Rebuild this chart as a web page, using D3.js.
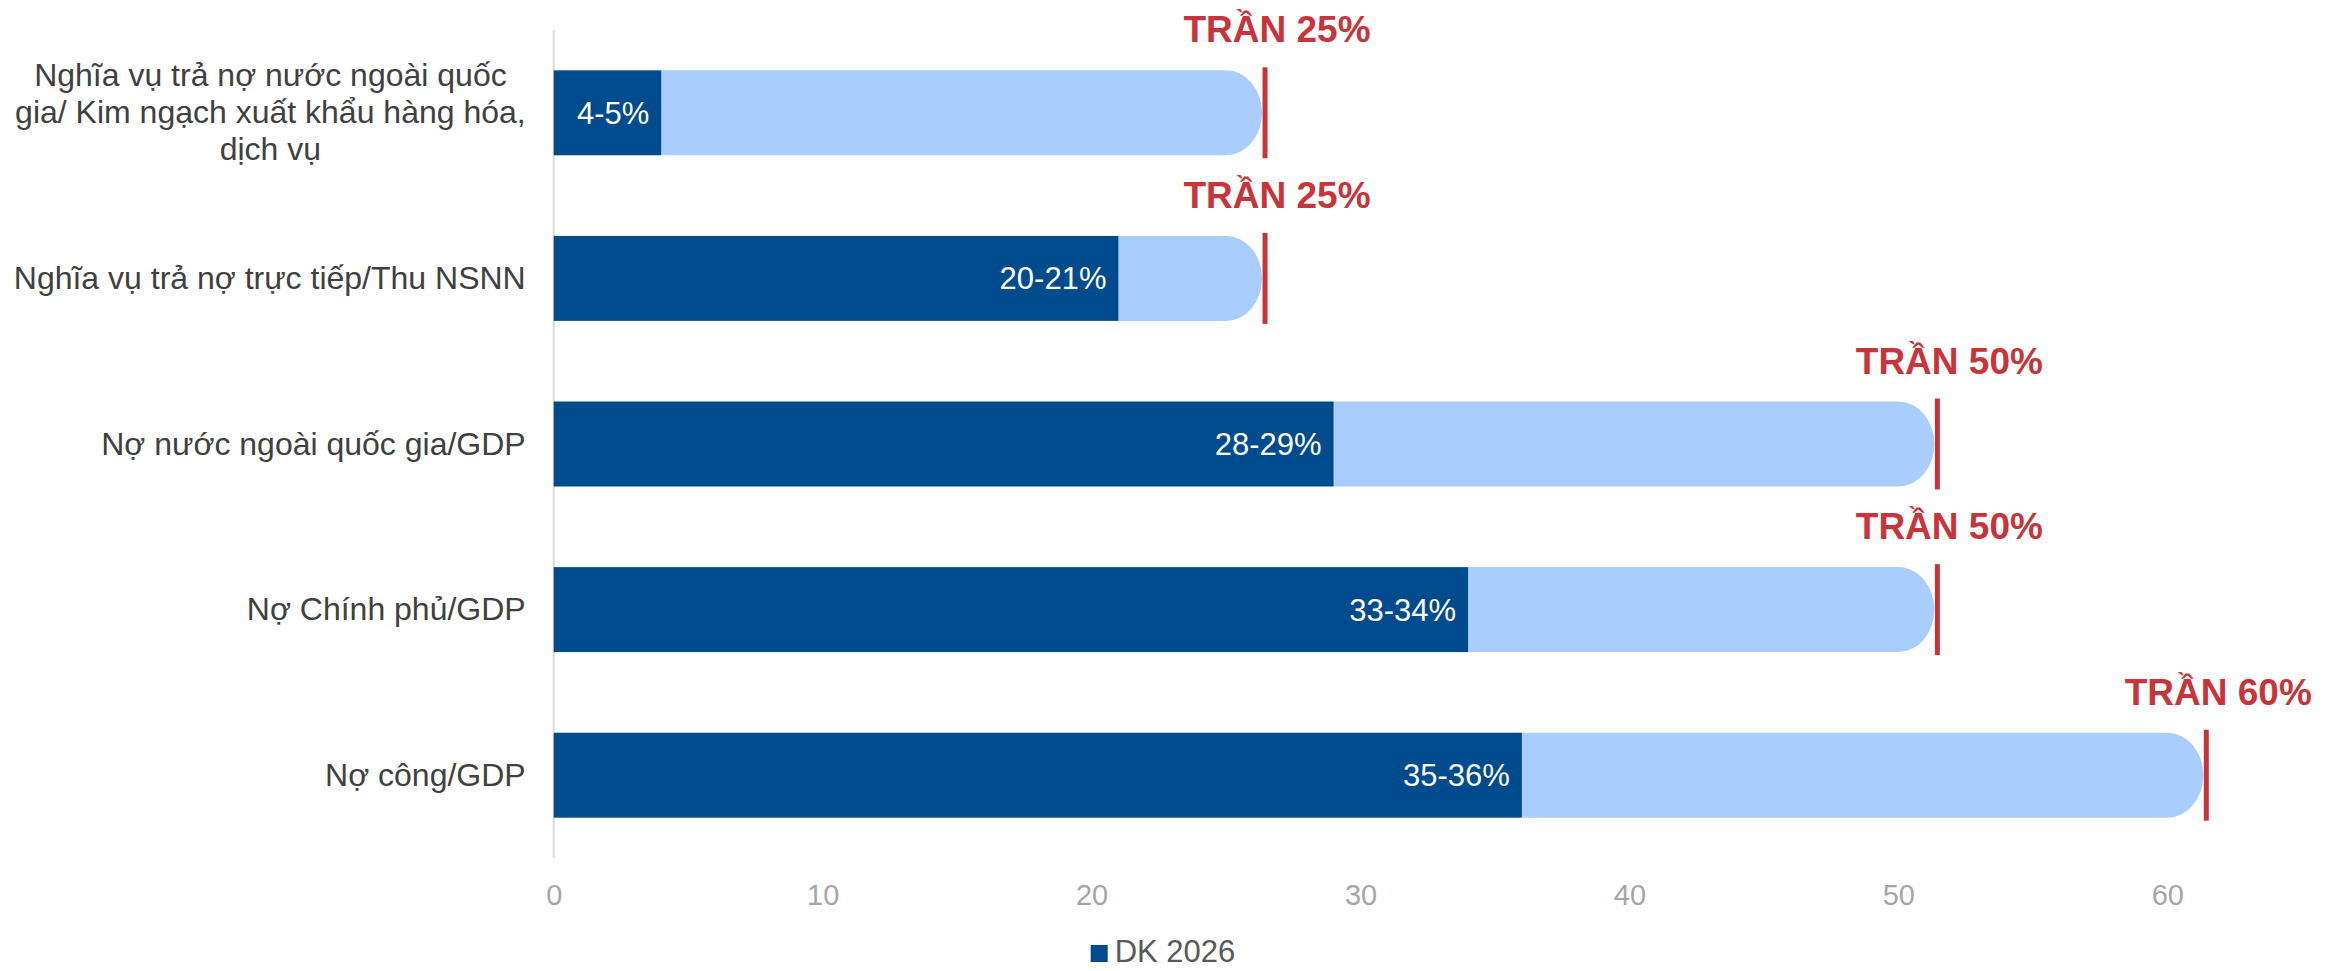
<!DOCTYPE html>
<html><head><meta charset="utf-8">
<script src="https://cdn.jsdelivr.net/npm/d3@7"></script>
<style>
body{margin:0;background:#fff}
svg{display:block}
text{font-family:"Liberation Sans",Arial,sans-serif}
</style>
</head><body>
<svg id="c" width="2334" height="971"></svg>
<script>
// ---- data ----
const categories = [
  "Nghĩa vụ trả nợ nước ngoài quốc\ngia/ Kim ngạch xuất khẩu hàng hóa,\ndịch vụ",
  "Nghĩa vụ trả nợ trực tiếp/Thu NSNN",
  "Nợ nước ngoài quốc gia/GDP",
  "Nợ Chính phủ/GDP",
  "Nợ công/GDP"
];
const values2026 = [4, 21, 29, 34, 36];
const valueLabels = ["4-5%", "20-21%", "28-29%", "33-34%", "35-36%"];
const ceilings = [25, 25, 50, 50, 60];
const ceilingLabels = ["TRẦN 25%", "TRẦN 25%", "TRẦN 50%", "TRẦN 50%", "TRẦN 60%"];
const xTicks = [0, 10, 20, 30, 40, 50, 60];
const seriesName = "DK 2026";

// ---- style ----
const W = 2334, H = 971;
const C_DARK = "#004B8D", C_LIGHT = "#A9CDFD", C_RED = "#C8343A";
const C_CAT = "#404040", C_TICK = "#A6A6A6", C_LEG = "#595959";
const capRx = 36;

const svg = d3.select("#c");
const x = d3.scaleLinear().domain([0, 60]).range([553.7, 2167.3]);
const y = d3.scaleBand().domain(d3.range(categories.length)).range([30, 858])
  .paddingInner(0.487).paddingOuter(0.2435);
const bh = y.bandwidth();

// vertical axis line
svg.append("line").attr("x1", x(0)).attr("x2", x(0)).attr("y1", 30).attr("y2", 858)
  .attr("stroke", "#D9D9D9").attr("stroke-width", 2);

const rows = categories.map((c, i) => ({c, v: values2026[i], lab: valueLabels[i], cap: ceilings[i], capLab: ceilingLabels[i], i}));

// light (remaining to ceiling) bars with rounded end
svg.selectAll("path.light").data(rows).join("path").attr("class", "light")
  .attr("fill", C_LIGHT)
  .attr("d", d => {
    const y0 = y(d.i), y1 = y0 + bh;
    return `M${x(d.v)},${y0} H${x(d.cap)} A${capRx},${bh/2} 0 0 1 ${x(d.cap)},${y1} H${x(d.v)} Z`;
  });

// dark bars
svg.selectAll("rect.dark").data(rows).join("rect").attr("class", "dark")
  .attr("x", x(0)).attr("y", d => y(d.i))
  .attr("width", d => x(d.v) - x(0)).attr("height", bh)
  .attr("fill", C_DARK);

// value labels (inside end)
svg.selectAll("text.val").data(rows).join("text").attr("class", "val")
  .attr("x", d => x(d.v) - 12).attr("y", d => y(d.i) + bh/2 + 11)
  .attr("text-anchor", "end").attr("fill", "#fff").attr("font-size", 31)
  .text(d => d.lab);

// red ceiling markers
svg.selectAll("line.cap").data(rows).join("line").attr("class", "cap")
  .attr("x1", d => x(d.cap) + capRx + 3).attr("x2", d => x(d.cap) + capRx + 3)
  .attr("y1", d => y(d.i) - 3).attr("y2", d => y(d.i) + bh + 3)
  .attr("stroke", C_RED).attr("stroke-width", 5);

// ceiling labels
svg.selectAll("text.caplab").data(rows).join("text").attr("class", "caplab")
  .attr("x", d => x(d.cap) + capRx + 3 + 12).attr("y", d => y(d.i) - 28)
  .attr("text-anchor", "middle").attr("fill", C_RED)
  .attr("font-size", 37).attr("font-weight", "bold")
  .text(d => d.capLab);

// category labels (block right-aligned, lines centred)
const labRight = x(0) - 28;
const lineH = 37;
rows.forEach(d => {
  const lines = d.c.split("\n");
  const t = svg.append("text").attr("fill", C_CAT).attr("font-size", 32).attr("text-anchor", "middle");
  const cy = y(d.i) + bh/2 + 10.5;
  const tsp = lines.map((ln, k) => t.append("tspan")
    .attr("y", cy + (k - (lines.length - 1)/2) * lineH).text(ln));
  const wMax = d3.max(tsp, s => s.node().getComputedTextLength());
  tsp.forEach(s => s.attr("x", labRight - wMax/2));
});

// x axis tick labels
const axis = d3.axisBottom(x).tickValues(xTicks).tickSize(0).tickFormat(d3.format("d"));
const ax = svg.append("g").attr("transform", "translate(0,858)").call(axis);
ax.select(".domain").remove();
ax.selectAll("text").attr("y", 47).attr("dy", null)
  .attr("fill", C_TICK).attr("font-size", 29)
  .attr("font-family", '"Liberation Sans",Arial,sans-serif');

// legend
const leg = svg.append("g");
leg.append("rect").attr("x", 0).attr("y", -17).attr("width", 17).attr("height", 17).attr("fill", C_DARK);
const lt = leg.append("text").attr("x", 24).attr("y", 0).attr("fill", C_LEG).attr("font-size", 31).text(seriesName);
const lw = 24 + lt.node().getComputedTextLength();
leg.attr("transform", `translate(${W/2 - lw/2 - 4},962)`);
</script>
</body></html>
